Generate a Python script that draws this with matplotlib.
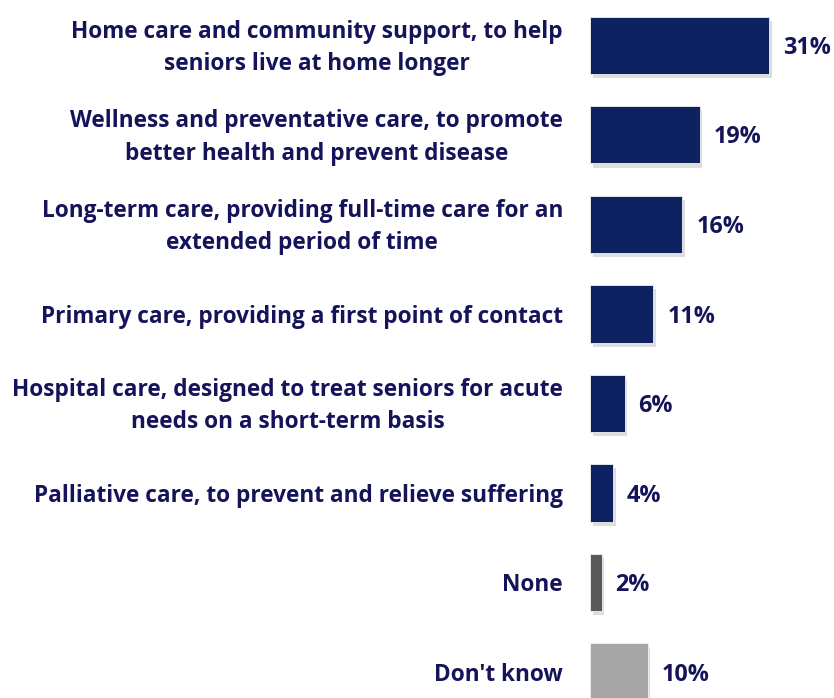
import matplotlib.pyplot as plt
import matplotlib.patheffects as pe

labels = [
    "Home care and community support, to help\nseniors live at home longer",
    "Wellness and preventative care, to promote\nbetter health and prevent disease",
    "Long-term care, providing full-time care for an\nextended period of time",
    "Primary care, providing a first point of contact",
    "Hospital care, designed to treat seniors for acute\nneeds on a short-term basis",
    "Palliative care, to prevent and relieve suffering",
    "None",
    "Don't know",
]
values = [31, 19, 16, 11, 6, 4, 2, 10]
colors = ["#0e2161"] * 6 + ["#595959", "#a6a6a6"]

text_color = "#15145a"

fig = plt.figure(figsize=(8.34, 6.98), dpi=100)
ax = fig.add_axes([590 / 834, 0, 1 - 590 / 834, 1])

px_per_unit = 5.77
ax.set_xlim(0, (834 - 590) / px_per_unit)
ax.set_ylim(7.29, -0.505)

ypos = list(range(len(values)))
bars = ax.barh(ypos, values, height=0.64, color=colors, edgecolor="#f2f2f2", linewidth=0.6)
for b in bars:
    b.set_path_effects([pe.SimplePatchShadow(offset=(2, -3), shadow_rgbFace="#909090", alpha=0.3), pe.Normal()])

for y, v, lab in zip(ypos, values, labels):
    ax.text(v + 14 / px_per_unit, y + 0.03, f"{v}%", ha="left", va="center",
            fontsize=16.8, fontweight="bold", color=text_color, family="Open Sans", clip_on=False)
    ax.text(-27 / px_per_unit, y + 0.03, lab, ha="right", va="center", multialignment="center",
            fontsize=16.3, fontweight="bold", color=text_color, family="Open Sans",
            linespacing=1.45, clip_on=False)

ax.axis("off")
fig.savefig("out.png", dpi=100)
